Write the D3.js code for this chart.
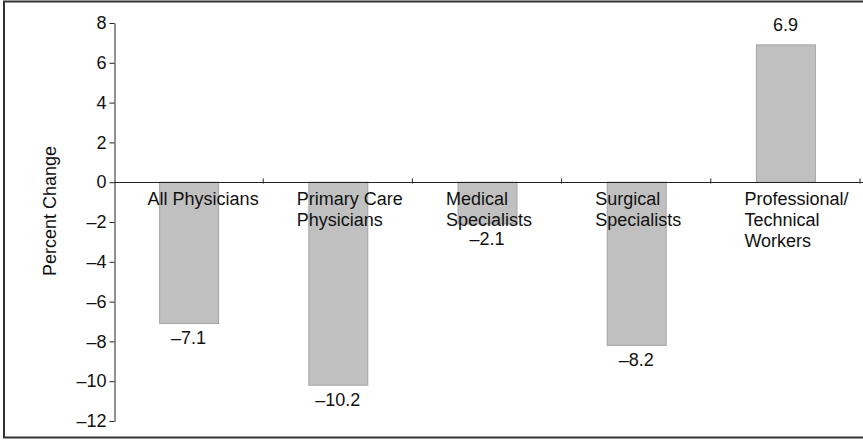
<!DOCTYPE html>
<html>
<head>
<meta charset="utf-8">
<script src="https://cdn.jsdelivr.net/npm/d3@7"></script>
<style>
  body { margin: 0; background: #fff; }
  text { font-family: "Liberation Sans", Arial, sans-serif; fill: #111; }
</style>
</head>
<body>
<div id="chart"></div>
<script>
// data
var categories = ["All Physicians", "Primary Care Physicians", "Medical Specialists", "Surgical Specialists", "Professional/Technical Workers"];
var labelLines = [["All Physicians"], ["Primary Care", "Physicians"], ["Medical", "Specialists"], ["Surgical", "Specialists"], ["Professional/", "Technical", "Workers"]];
var values = [-7.1, -10.2, -2.1, -8.2, 6.9];
var yTicks = [8, 6, 4, 2, 0, -2, -4, -6, -8, -10, -12];

var width = 863, height = 440;

var svg = d3.select("#chart").append("svg")
    .attr("width", width)
    .attr("height", height);

// frame
svg.append("rect")
    .attr("x", 4).attr("y", 1.5)
    .attr("width", 870).attr("height", 436)
    .attr("fill", "none")
    .attr("stroke", "#333")
    .attr("stroke-width", 2);

var x = d3.scaleBand()
    .domain(categories)
    .range([114, 860])
    .paddingInner(0.605)
    .paddingOuter(0.3025);

var y = d3.scaleLinear()
    .domain([-12, 8])
    .range([421, 23]);

function fmt(v) {
    return v < 0 ? "\u2013" + Math.abs(v) : String(v);
}

// bars
svg.append("g")
    .selectAll("rect")
    .data(values)
    .enter()
    .append("rect")
    .attr("x", function (d, i) { return x(categories[i]) + 0.5; })
    .attr("y", function (d) { return y(Math.max(0, d)); })
    .attr("width", x.bandwidth())
    .attr("height", function (d) { return Math.abs(y(d) - y(0)); })
    .attr("fill", "#c0c0c0")
    .attr("stroke", "#a3a3a3")
    .attr("stroke-width", 1);

// y axis
var yAxis = svg.append("g")
    .attr("transform", "translate(114.5,0)")
    .call(d3.axisLeft(y)
        .tickValues(yTicks)
        .tickSize(5)
        .tickSizeOuter(0)
        .tickPadding(3)
        .tickFormat(fmt));
yAxis.select(".domain").attr("stroke", "#222");
yAxis.selectAll(".tick line").attr("stroke", "#222");
yAxis.selectAll("text")
    .style("font-family", "'Liberation Sans', Arial, sans-serif")
    .style("font-size", "18px")
    .attr("fill", "#111");

// zero line with category boundary ticks
var y0 = Math.round(y(0)) + 0.5;
svg.append("line")
    .attr("x1", 114).attr("x2", 863)
    .attr("y1", y0).attr("y2", y0)
    .attr("stroke", "#222");

svg.append("g")
    .selectAll("line")
    .data(categories)
    .enter()
    .append("line")
    .attr("x1", function (d) { return x(d) + x.bandwidth() / 2 + x.step() / 2; })
    .attr("x2", function (d) { return x(d) + x.bandwidth() / 2 + x.step() / 2; })
    .attr("y1", y0 - 4)
    .attr("y2", y0 + 1)
    .attr("stroke", "#222");

// category labels
svg.append("g")
    .selectAll("text")
    .data(categories)
    .enter()
    .append("text")
    .attr("x", function (d) { return x(d) + x.bandwidth() / 2 - 41; })
    .attr("y", y0 + 22)
    .style("font-size", "18px")
    .each(function (d, i) {
        var t = d3.select(this);
        labelLines[i].forEach(function (line, j) {
            t.append("tspan")
                .attr("x", t.attr("x"))
                .attr("dy", j === 0 ? 0 : 21)
                .text(line);
        });
    });

// value labels
svg.append("g")
    .selectAll("text")
    .data(values)
    .enter()
    .append("text")
    .attr("x", function (d, i) { return x(categories[i]) + x.bandwidth() / 2; })
    .attr("y", function (d) { return d < 0 ? y(d) + 21 : y(d) - 14; })
    .attr("text-anchor", "middle")
    .style("font-size", "18px")
    .text(fmt);

// y axis title
svg.append("text")
    .attr("transform", "translate(56,211) rotate(-90)")
    .attr("text-anchor", "middle")
    .style("font-size", "18px")
    .text("Percent Change");
</script>
</body>
</html>
